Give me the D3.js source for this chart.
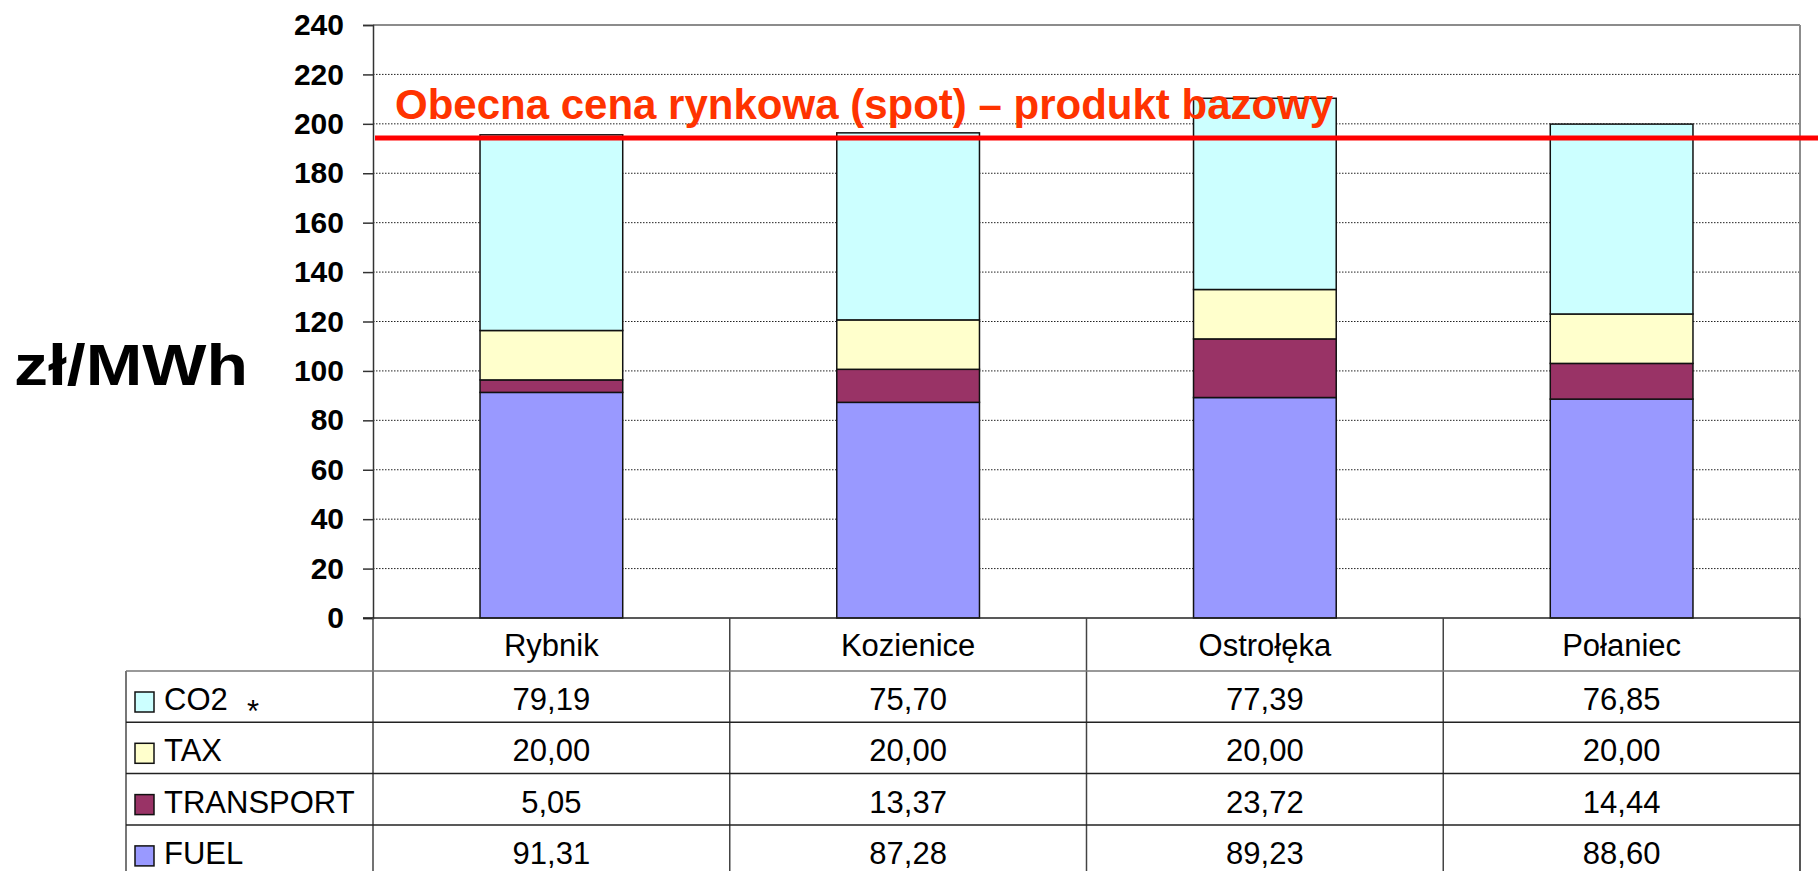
<!DOCTYPE html>
<html>
<head>
<meta charset="utf-8">
<script src="https://cdn.jsdelivr.net/npm/d3@7"></script>
<style>
  body { margin: 0; background: #fff; }
  svg { display: block; font-family: "Liberation Sans", Arial, sans-serif; }
</style>
</head>
<body>
<div id="chart"></div>
<script>
// data
var categories = ["Rybnik", "Kozienice", "Ostrołęka", "Połaniec"];
var fuel = [91.31, 87.28, 89.23, 88.60];
var transport = [5.05, 13.37, 23.72, 14.44];
var tax = [20.00, 20.00, 20.00, 20.00];
var co2 = [79.19, 75.70, 77.39, 76.85];
var yTicks = [0, 20, 40, 60, 80, 100, 120, 140, 160, 180, 200, 220, 240];
var spotPrice = 194.3;
var spotLabel = "Obecna cena rynkowa (spot) – produkt bazowy";
var unitLabel = "zł/MWh";

// series, bottom to top in the stack; table rows go top to bottom
var seriesKeys = ["FUEL", "TRANSPORT", "TAX", "CO2"];
var seriesValues = { FUEL: fuel, TRANSPORT: transport, TAX: tax, CO2: co2 };
var seriesColors = { FUEL: "#9999FF", TRANSPORT: "#993366", TAX: "#FFFFCC", CO2: "#CCFFFF" };
var tableRows = ["CO2", "TAX", "TRANSPORT", "FUEL"];

var width = 1818,
    height = 871;

// plot area (note: "top" is reserved by window, so prefixed names)
var plotLeft = 373, plotRight = 1800, plotTop = 25, plotBottom = 618;
var rowH = 51.3, headerBottom = 671, tableLeft = 126;

var svg = d3.select("#chart").append("svg")
  .attr("width", width)
  .attr("height", height);

var x = d3.scaleBand()
  .domain(categories)
  .range([plotLeft, plotRight])
  .paddingInner(0.6)
  .paddingOuter(0.3);

var y = d3.scaleLinear()
  .domain([0, 240])
  .range([plotBottom, plotTop]);

var fmt = d3.formatLocale({ decimal: ",", thousands: " ", grouping: [3], currency: ["", " zł"] }).format(".2f");

// gridlines (dotted)
svg.append("g")
  .selectAll("line")
  .data(yTicks.filter(function(d) { return d > 0 && d < 240; }))
  .enter().append("line")
  .attr("x1", plotLeft).attr("x2", plotRight)
  .attr("y1", function(d) { return y(d); })
  .attr("y2", function(d) { return y(d); })
  .attr("stroke", "#222")
  .attr("stroke-width", 1)
  .attr("stroke-dasharray", "1.5,1.5");

// plot frame top / right
svg.append("line")
  .attr("x1", plotLeft).attr("x2", plotRight)
  .attr("y1", y(240)).attr("y2", y(240))
  .attr("stroke", "#8c8c8c").attr("stroke-width", 2);
svg.append("line")
  .attr("x1", plotRight).attr("x2", plotRight)
  .attr("y1", y(240)).attr("y2", height)
  .attr("stroke", "#8c8c8c").attr("stroke-width", 2);

// y axis
var yAxis = d3.axisLeft(y)
  .tickValues(yTicks)
  .tickSize(10)
  .tickPadding(19)
  .tickFormat(d3.format("d"));

var gy = svg.append("g")
  .attr("transform", "translate(" + plotLeft + ",0)")
  .call(yAxis);
gy.select(".domain").attr("stroke", "#333").attr("stroke-width", 1.5);
gy.selectAll(".tick line").attr("stroke", "#333").attr("stroke-width", 1.5);
gy.selectAll(".tick text")
  .attr("font-family", "Liberation Sans, Arial, sans-serif")
  .attr("font-size", 30)
  .attr("font-weight", "bold")
  .attr("fill", "#000");

// unit label
svg.append("text")
  .attr("x", 14)
  .attr("y", 385)
  .attr("font-size", 58)
  .attr("font-weight", "bold")
  .attr("textLength", 234)
  .attr("lengthAdjust", "spacingAndGlyphs")
  .text(unitLabel);

// stacked bars
var tableData = categories.map(function(c, i) {
  var row = { category: c };
  seriesKeys.forEach(function(k) { row[k] = seriesValues[k][i]; });
  return row;
});

var stacked = d3.stack().keys(seriesKeys)(tableData);

svg.append("g")
  .selectAll("g")
  .data(stacked)
  .enter().append("g")
  .attr("fill", function(d) { return seriesColors[d.key]; })
  .selectAll("rect")
  .data(function(d) { return d; })
  .enter().append("rect")
  .attr("x", function(d) { return x(d.data.category); })
  .attr("y", function(d) { return y(d[1]); })
  .attr("width", x.bandwidth())
  .attr("height", function(d) { return y(d[0]) - y(d[1]); })
  .attr("stroke", "#111")
  .attr("stroke-width", 1.5);

// x axis line
svg.append("line")
  .attr("x1", plotLeft - 10).attr("x2", plotRight)
  .attr("y1", plotBottom).attr("y2", plotBottom)
  .attr("stroke", "#222").attr("stroke-width", 1.5);

// spot price line + label
svg.append("line")
  .attr("x1", plotLeft + 2).attr("x2", width)
  .attr("y1", y(spotPrice)).attr("y2", y(spotPrice))
  .attr("stroke", "#FF0000")
  .attr("stroke-width", 5);

svg.append("text")
  .attr("x", 395)
  .attr("y", 119)
  .attr("font-size", 42)
  .attr("font-weight", "bold")
  .attr("fill", "#FF3300")
  .text(spotLabel);

// data table
var table = svg.append("g");
var colEdges = [plotLeft].concat(categories.map(function(c) { return x(c) + x.bandwidth() / 2 + x.step() / 2; }));

// vertical lines
table.selectAll("line.col")
  .data(colEdges)
  .enter().append("line")
  .attr("class", "col")
  .attr("x1", function(d) { return d; })
  .attr("x2", function(d) { return d; })
  .attr("y1", plotBottom).attr("y2", height)
  .attr("stroke", "#444").attr("stroke-width", 1.5);

table.append("line")
  .attr("x1", tableLeft).attr("x2", tableLeft)
  .attr("y1", headerBottom).attr("y2", height)
  .attr("stroke", "#777").attr("stroke-width", 2);

// horizontal lines
table.selectAll("line.row")
  .data(d3.range(tableRows.length + 1))
  .enter().append("line")
  .attr("class", "row")
  .attr("x1", tableLeft).attr("x2", plotRight)
  .attr("y1", function(i) { return headerBottom + i * rowH; })
  .attr("y2", function(i) { return headerBottom + i * rowH; })
  .attr("stroke", function(i) { return i == 0 ? "#777" : "#222"; })
  .attr("stroke-width", 1.5);

// category names
table.selectAll("text.cat")
  .data(categories)
  .enter().append("text")
  .attr("class", "cat")
  .attr("x", function(d) { return x(d) + x.bandwidth() / 2; })
  .attr("y", plotBottom + 38)
  .attr("text-anchor", "middle")
  .attr("font-size", 31)
  .text(function(d) { return d; });

// row labels with colour keys
var rows = table.selectAll("g.trow")
  .data(tableRows)
  .enter().append("g")
  .attr("class", "trow")
  .attr("transform", function(d, i) { return "translate(0," + (headerBottom + i * rowH) + ")"; });

rows.append("rect")
  .attr("x", 135).attr("y", 21)
  .attr("width", 19).attr("height", 20)
  .attr("fill", function(d) { return seriesColors[d]; })
  .attr("stroke", "#111").attr("stroke-width", 1.5);

rows.append("text")
  .attr("x", 164)
  .attr("y", 39)
  .attr("font-size", 31)
  .text(function(d) { return d; });

rows.filter(function(d) { return d == "CO2"; })
  .append("text")
  .attr("x", 247)
  .attr("y", 51)
  .attr("font-size", 31)
  .text("*");

rows.selectAll("text.val")
  .data(function(k) { return seriesValues[k]; })
  .enter().append("text")
  .attr("class", "val")
  .attr("x", function(d, i) { return x(categories[i]) + x.bandwidth() / 2; })
  .attr("y", 39)
  .attr("text-anchor", "middle")
  .attr("font-size", 31)
  .text(function(d) { return fmt(d); });
</script>
</body>
</html>
